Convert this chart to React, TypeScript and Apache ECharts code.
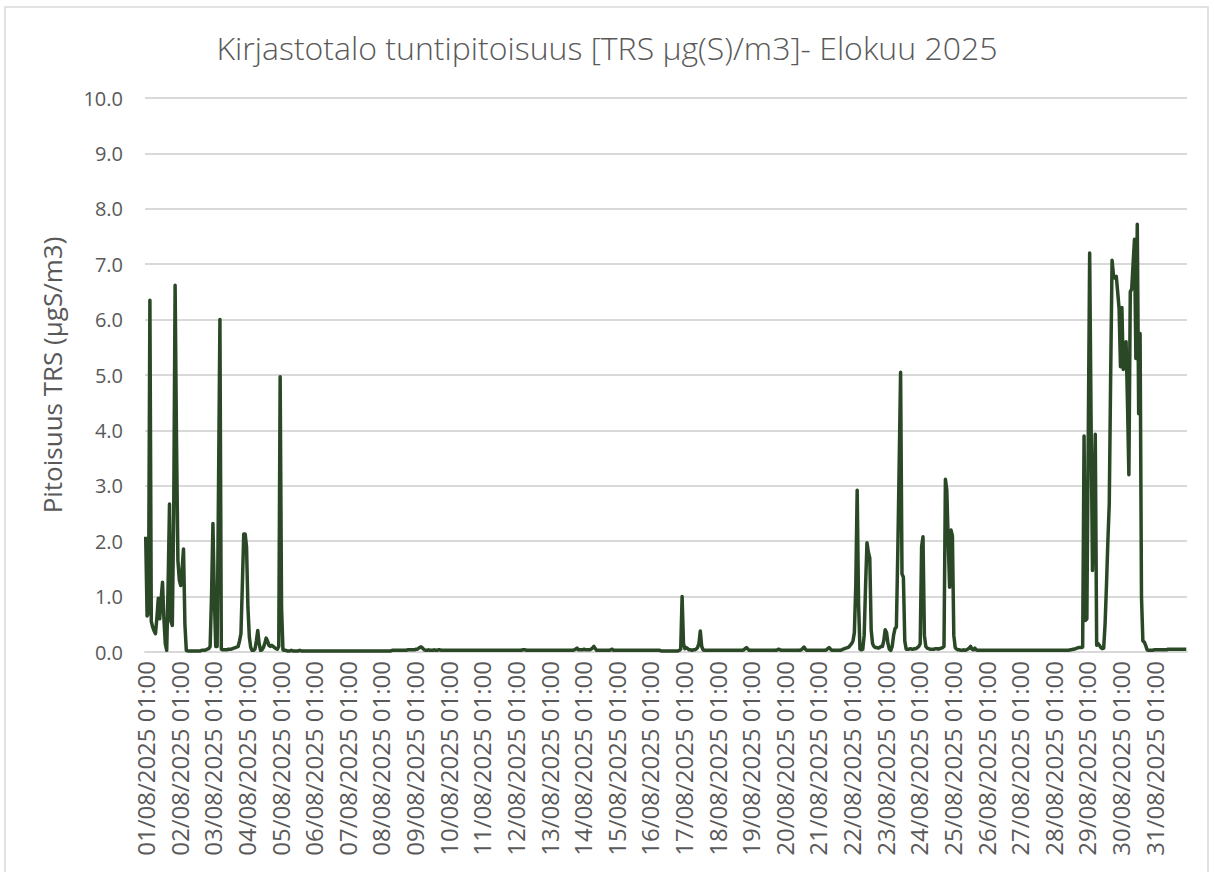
import React, { useEffect, useRef } from "react";
import * as echarts from "echarts";

// Hourly TRS concentrations (µgS/m3), one array per day of August 2025, starting at 01:00
const d01 = [2.08, 0.65, 0.7, 6.35, 0.55, 0.45, 0.38, 0.33, 0.62, 0.97, 0.6, 0.95, 1.26, 0.6, 0.15, 0.03, 1.2, 2.67, 0.55, 0.48, 2.5, 6.62, 3.8, 1.65];
const d02 = [1.3, 1.2, 1.5, 1.86, 0.5, 0.03, 0.02, 0.02, 0.02, 0.02, 0.02, 0.02, 0.02, 0.02, 0.02, 0.02, 0.03, 0.03, 0.03, 0.04, 0.05, 0.06, 0.1, 1.0];
const d03 = [2.32, 1.0, 0.1, 0.1, 3.0, 6.0, 0.05, 0.04, 0.04, 0.04, 0.04, 0.05, 0.05, 0.05, 0.06, 0.07, 0.08, 0.09, 0.1, 0.2, 0.33, 1.2, 2.13, 2.13];
const d04 = [1.9, 0.8, 0.27, 0.08, 0.03, 0.03, 0.05, 0.2, 0.39, 0.15, 0.03, 0.04, 0.08, 0.15, 0.25, 0.2, 0.12, 0.1, 0.12, 0.1, 0.08, 0.06, 0.05, 0.1];
const d05 = [4.97, 0.8, 0.04, 0.03, 0.03, 0.02, 0.02, 0.02, 0.03, 0.02, 0.02, 0.02, 0.02, 0.02, 0.03, 0.02, 0.02, 0.02, 0.02, 0.02, 0.02, 0.02, 0.02, 0.02];
const d06 = [0.02, 0.02, 0.02, 0.02, 0.02, 0.02, 0.02, 0.02, 0.02, 0.02, 0.02, 0.02, 0.02, 0.02, 0.02, 0.02, 0.02, 0.02, 0.02, 0.02, 0.02, 0.02, 0.02, 0.02];
const d07 = [0.02, 0.02, 0.02, 0.02, 0.02, 0.02, 0.02, 0.02, 0.02, 0.02, 0.02, 0.02, 0.02, 0.02, 0.02, 0.02, 0.02, 0.02, 0.02, 0.02, 0.02, 0.02, 0.02, 0.02];
const d08 = [0.02, 0.02, 0.02, 0.02, 0.02, 0.02, 0.02, 0.02, 0.03, 0.03, 0.03, 0.03, 0.03, 0.03, 0.03, 0.03, 0.03, 0.03, 0.03, 0.04, 0.04, 0.04, 0.04, 0.04];
const d09 = [0.04, 0.05, 0.05, 0.07, 0.09, 0.09, 0.06, 0.04, 0.03, 0.03, 0.04, 0.03, 0.03, 0.03, 0.04, 0.03, 0.03, 0.04, 0.04, 0.03, 0.03, 0.03, 0.03, 0.03];
const d10 = [0.03, 0.03, 0.03, 0.03, 0.03, 0.03, 0.03, 0.03, 0.03, 0.03, 0.03, 0.03, 0.03, 0.03, 0.03, 0.03, 0.03, 0.03, 0.03, 0.03, 0.03, 0.03, 0.03, 0.03];
const d11 = [0.03, 0.03, 0.03, 0.03, 0.03, 0.03, 0.03, 0.03, 0.03, 0.03, 0.03, 0.03, 0.03, 0.03, 0.03, 0.03, 0.03, 0.03, 0.03, 0.03, 0.03, 0.03, 0.03, 0.03];
const d12 = [0.03, 0.03, 0.03, 0.03, 0.03, 0.04, 0.04, 0.04, 0.03, 0.03, 0.03, 0.03, 0.03, 0.03, 0.03, 0.03, 0.03, 0.03, 0.03, 0.03, 0.03, 0.03, 0.03, 0.03];
const d13 = [0.03, 0.03, 0.03, 0.03, 0.03, 0.03, 0.03, 0.03, 0.03, 0.03, 0.03, 0.03, 0.03, 0.03, 0.03, 0.03, 0.03, 0.03, 0.04, 0.05, 0.07, 0.04, 0.04, 0.04];
const d14 = [0.04, 0.05, 0.04, 0.04, 0.04, 0.04, 0.05, 0.07, 0.1, 0.06, 0.03, 0.03, 0.03, 0.03, 0.03, 0.03, 0.03, 0.03, 0.03, 0.03, 0.04, 0.05, 0.03, 0.03];
const d15 = [0.03, 0.03, 0.03, 0.03, 0.03, 0.03, 0.03, 0.03, 0.03, 0.03, 0.03, 0.03, 0.03, 0.03, 0.03, 0.03, 0.03, 0.03, 0.03, 0.03, 0.03, 0.03, 0.03, 0.03];
const d16 = [0.03, 0.03, 0.03, 0.03, 0.03, 0.03, 0.03, 0.03, 0.02, 0.02, 0.02, 0.02, 0.02, 0.02, 0.02, 0.02, 0.02, 0.02, 0.02, 0.02, 0.02, 0.03, 0.05, 1.0];
const d17 = [0.15, 0.06, 0.08, 0.06, 0.04, 0.04, 0.03, 0.04, 0.04, 0.05, 0.08, 0.15, 0.38, 0.1, 0.04, 0.03, 0.03, 0.03, 0.03, 0.03, 0.03, 0.03, 0.03, 0.03];
const d18 = [0.03, 0.03, 0.03, 0.03, 0.03, 0.03, 0.03, 0.03, 0.03, 0.03, 0.03, 0.03, 0.03, 0.03, 0.03, 0.03, 0.03, 0.03, 0.03, 0.04, 0.06, 0.08, 0.05, 0.03];
const d19 = [0.03, 0.03, 0.03, 0.03, 0.03, 0.03, 0.03, 0.03, 0.03, 0.03, 0.03, 0.03, 0.03, 0.03, 0.03, 0.03, 0.03, 0.03, 0.03, 0.04, 0.05, 0.04, 0.03, 0.03];
const d20 = [0.03, 0.03, 0.03, 0.03, 0.03, 0.03, 0.03, 0.03, 0.03, 0.03, 0.03, 0.03, 0.04, 0.06, 0.09, 0.05, 0.03, 0.03, 0.03, 0.03, 0.03, 0.03, 0.03, 0.03];
const d21 = [0.03, 0.03, 0.03, 0.03, 0.03, 0.03, 0.04, 0.06, 0.08, 0.05, 0.03, 0.03, 0.03, 0.03, 0.03, 0.03, 0.03, 0.04, 0.05, 0.06, 0.07, 0.08, 0.09, 0.12];
const d22 = [0.15, 0.2, 0.35, 1.2, 2.92, 0.87, 0.05, 0.04, 0.05, 0.3, 1.2, 1.97, 1.8, 1.7, 0.4, 0.15, 0.1, 0.08, 0.08, 0.07, 0.08, 0.1, 0.1, 0.2];
const d23 = [0.4, 0.35, 0.15, 0.05, 0.03, 0.1, 0.3, 0.42, 0.45, 1.8, 3.4, 5.05, 1.41, 1.35, 0.2, 0.05, 0.05, 0.05, 0.06, 0.05, 0.05, 0.06, 0.06, 0.08];
const d24 = [0.1, 0.15, 1.9, 2.08, 0.3, 0.1, 0.07, 0.06, 0.05, 0.05, 0.05, 0.05, 0.06, 0.06, 0.05, 0.06, 0.07, 0.08, 0.1, 3.12, 2.92, 2.0, 1.17, 2.2];
const d25 = [2.1, 0.3, 0.08, 0.05, 0.04, 0.04, 0.03, 0.03, 0.04, 0.03, 0.04, 0.05, 0.07, 0.1, 0.05, 0.04, 0.07, 0.04, 0.03, 0.03, 0.03, 0.03, 0.03, 0.03];
const d26 = [0.03, 0.03, 0.03, 0.03, 0.03, 0.03, 0.03, 0.03, 0.03, 0.03, 0.03, 0.03, 0.03, 0.03, 0.03, 0.03, 0.03, 0.03, 0.03, 0.03, 0.03, 0.03, 0.03, 0.03];
const d27 = [0.03, 0.03, 0.03, 0.03, 0.03, 0.03, 0.03, 0.03, 0.03, 0.03, 0.03, 0.03, 0.03, 0.03, 0.03, 0.03, 0.03, 0.03, 0.03, 0.03, 0.03, 0.03, 0.03, 0.03];
const d28 = [0.03, 0.03, 0.03, 0.03, 0.03, 0.03, 0.03, 0.03, 0.03, 0.03, 0.03, 0.03, 0.04, 0.04, 0.05, 0.05, 0.06, 0.07, 0.08, 0.08, 0.08, 0.09, 3.9, 0.57];
const d29 = [0.6, 3.9, 7.2, 4.2, 1.47, 2.6, 3.93, 0.12, 0.15, 0.12, 0.08, 0.06, 0.07, 0.5, 1.2, 2.0, 2.68, 5.0, 7.07, 6.8, 6.75, 6.78, 6.5, 6.2];
const d30 = [5.15, 6.22, 5.1, 5.4, 5.6, 4.5, 3.2, 6.5, 6.55, 7.0, 7.45, 5.3, 7.72, 4.3, 5.75, 1.0, 0.2, 0.18, 0.12, 0.04, 0.03, 0.03, 0.03, 0.03];
const d31 = [0.04, 0.04, 0.04, 0.04, 0.04, 0.04, 0.04, 0.04, 0.04, 0.04, 0.05, 0.05, 0.05, 0.05, 0.05, 0.05, 0.05, 0.05, 0.05, 0.05, 0.05, 0.05, 0.05, 0.05];

const days = [d01, d02, d03, d04, d05, d06, d07, d08, d09, d10, d11, d12, d13, d14, d15, d16, d17, d18, d19, d20, d21, d22, d23, d24, d25, d26, d27, d28, d29, d30, d31];
const values = days.flat();

const pad = (n: number) => String(n).padStart(2, "0");
// Category labels: first reading is 01/08/2025 01:00, hourly
const categories = values.map((_, i) => {
  const h = i + 1;
  const day = Math.floor(h / 24) + 1;
  const hour = h % 24;
  return `${pad(day)}/08/2025 ${pad(hour)}:00`;
});

const TITLE = "Kirjastotalo tuntipitoisuus [TRS µg(S)/m3]- Elokuu 2025";
const Y_NAME = "Pitoisuus TRS (µgS/m3)";
const FONT = "'Open Sans', 'Noto Sans', sans-serif";
const TEXT = "#595959";
const GRID = "#d9d9d9";
const LINE = "#2a4826";

export default function App() {
  const ref = useRef<HTMLDivElement>(null);
  useEffect(() => {
    if (!ref.current) return;
    const chart = echarts.init(ref.current, undefined, { renderer: "svg" });
    chart.setOption({
      animation: false,
      backgroundColor: "#ffffff",
      title: {
        text: TITLE,
        left: "center",
        top: 26,
        textStyle: { fontFamily: FONT, fontSize: 32, fontWeight: 300, color: TEXT },
      },
      graphic: [
        {
          type: "rect",
          shape: { x: 5, y: 7, width: 1203, height: 900 },
          style: { fill: "none", stroke: GRID, lineWidth: 1.5 },
          silent: true,
        },
      ],
      grid: { left: 145, right: 27, top: 98, bottom: 220, containLabel: false },
      xAxis: {
        type: "category",
        data: categories,
        boundaryGap: true,
        axisLine: { show: true, lineStyle: { color: GRID, width: 2 } },
        axisTick: { show: false },
        splitLine: { show: false },
        axisLabel: {
          interval: (index: number) => index % 24 === 0,
          rotate: 90,
          margin: 9,
          fontFamily: FONT,
          fontSize: 24,
          color: TEXT,
          formatter: (v: string) => v,
        },
      },
      yAxis: {
        type: "value",
        min: 0,
        max: 10,
        interval: 1,
        name: Y_NAME,
        nameLocation: "middle",
        nameRotate: 90,
        nameGap: 80,
        nameTextStyle: { fontFamily: FONT, fontSize: 26, color: TEXT },
        axisLine: { show: false },
        axisTick: { show: false },
        splitLine: { show: true, lineStyle: { color: GRID, width: 2 } },
        axisLabel: {
          margin: 22,
          fontFamily: FONT,
          fontSize: 20,
          color: TEXT,
          formatter: (v: number) => v.toFixed(1),
        },
      },
      series: [
        {
          type: "line",
          data: values,
          symbol: "none",
          smooth: false,
          lineStyle: { color: LINE, width: 3.5, join: "round" },
          itemStyle: { color: LINE },
        },
      ],
    });
    return () => chart.dispose();
  }, []);
  return (
    <div
      ref={ref}
      style={{ position: "fixed", left: 0, top: 0, width: 1214, height: 872, background: "#fff" }}
    />
  );
}
